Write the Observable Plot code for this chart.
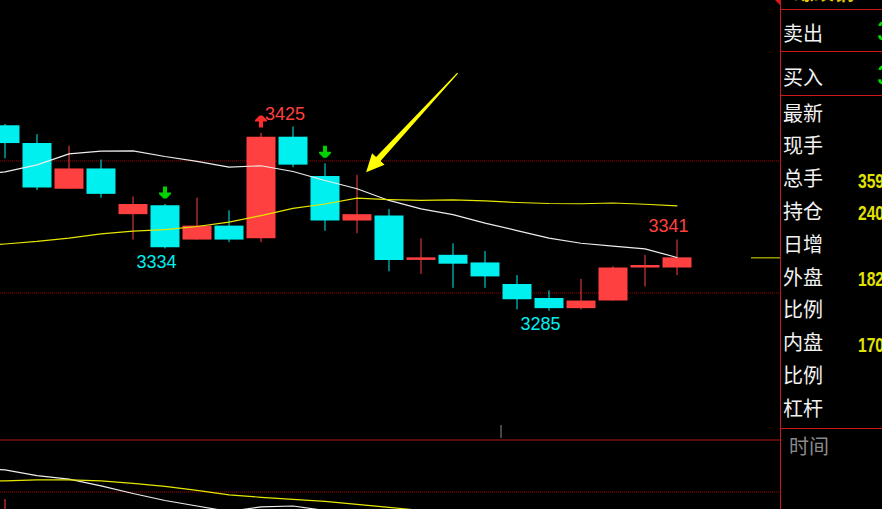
<!DOCTYPE html>
<html><head><meta charset="utf-8">
<script src="https://cdn.jsdelivr.net/npm/d3@7"></script>
<script src="https://cdn.jsdelivr.net/npm/@observablehq/plot@0.6"></script>
<style>
html,body{margin:0;padding:0;background:#000;width:882px;height:509px;overflow:hidden}
#wrap{position:relative;width:882px;height:509px;overflow:hidden;background:#000}
#main,#sub{position:absolute;left:0}
#main{top:0}
#sub{top:438px}
#panel{position:absolute;left:780px;top:0;width:102px;height:509px;border-left:1px solid #c81818;overflow:hidden}
.hl{position:absolute;left:0;width:102px;height:1px;background:#c81818}
.lbl{position:absolute;left:2px;font-family:"Noto Sans CJK SC";font-size:20px;line-height:20px;color:#f2f2f2;white-space:nowrap}
.val{position:absolute;left:77px;font-family:"Liberation Sans";font-weight:bold;font-size:20px;line-height:20px;color:#e2e200;white-space:nowrap;transform:scaleX(0.78);transform-origin:0 0}
.qv{position:absolute;left:96px;font-family:"Liberation Sans";font-size:30px;line-height:30px;color:#00e000;white-space:nowrap}
#corner{position:absolute;left:770px;top:0}
</style>
</head><body>
<div id="wrap">
  <div id="main"></div>
  <div id="sub"></div>
  <div id="panel"></div>
  <svg id="corner" width="12" height="8"><polygon points="5,0 10,0 10,5" fill="#e01818"/></svg>
</div>
<script>
// ---------- candle data (price) ----------
const candleIndex = [0,1,2,3,4,5,6,7,8,9,10,11,12,13,14,15,16,17,18,19,20,21];
const openP  = [3431,3417,3381,3397,3361,3368,3341,3352,3342,3422,3391,3356,3360,3325,3329,3323,3306,3295,3287,3293,3319,3319];
const closeP = [3417,3382,3397,3377,3369,3335,3352,3341,3422,3400,3356,3361,3325,3327,3322,3312,3294,3287,3293,3319,3321,3327];
const highP  = [3432,3424,3415,3404,3375,3369,3374,3364,3425,3430,3401,3392,3365,3342,3338,3332,3313,3301,3310,3320,3329,3341];
const lowP   = [3405,3380,3381,3374,3341,3334,3341,3339,3339,3398,3348,3346,3316,3314,3303,3303,3286,3285,3286,3293,3304,3313];

// moving averages (main chart)
const maIndex  = [-1,0,1,2,3,4,5,6,7,8,9,10,11,12,13,14,15,16,17,18,19,20,21];
const maWhite  = [3392.6,3394.7,3400.2,3408.9,3411.0,3411.3,3406.8,3402.9,3398.4,3399.5,3395.0,3387.9,3381.4,3372.2,3365.6,3361.1,3354.4,3348.5,3342.5,3338.5,3336.2,3334.1,3327.3];
const maYellow = [3336.3,3337.9,3339.9,3342.6,3345.9,3348.0,3349.3,3351.7,3355.2,3360.3,3365.9,3369.4,3374.0,3372.9,3372.2,3372.6,3371.8,3370.6,3369.8,3369.6,3370.2,3369.2,3368.0];

// reference levels (dotted) and session break
const levelLines = [3403.3, 3299.3];
const sessionBreaks = [15.5];

// signals
const signalIdx = [5, 8, 10];
const signalDir = ["sell", "buy", "sell"];

// extreme labels
const highMarks = [8, 21];
const lowMarks = [5, 17];

// callout arrow (index, price)
const calloutTail = [14.16, 3472];
const calloutTip  = [11.3, 3394];

// lower indicator panel
const subWhiteIndex = [-1,0,1,2,3,4,5,6,7,8,9,10];
const subWhite = [405,397,338,303,237,160,90,35,-20,27,35,-10];
const subYellowIndex = [-1,0,1,2,3,4,5,6,7,8,9,10,11,12,13];
const subYellow = [285,287,297,297,287,262,232,192,147,122,102,82,52,22,-10];
const subLevel = [175];
const subSeparator = [695];
const subBarIndex = [0];
const subBarValue = [100];

// right info panel
const quoteLabels = ["卖出", "买入"];
const quoteValues = ["3", "3"];
const infoLabels = ["最新","现手","总手","持仓","日增","外盘","比例","内盘","比例","杠杆"];
const infoValues = ["","","359","240","","182","","170","",""];
const timeLabel = "时间";
const headerText = "螺纹钢";

// ---------- build ----------
const RED = "#ff4040", CYAN = "#00f0f0", WHITE = "#ececec", YEL = "#e6e600";
const xDomain = [-0.140625, 24.234375];
const yDomain = [3184.76, 3529.64];

const candles = candleIndex.map((i, k) => ({i, open: openP[k], close: closeP[k], high: highP[k], low: lowP[k]}));
const col = d => d.close >= d.open ? RED : CYAN;
const maW = maIndex.map((i, k) => ({i, v: maWhite[k]}));
const maY = maIndex.map((i, k) => ({i, v: maYellow[k]}));
const signals = signalIdx.map((i, k) => ({i, dir: signalDir[k], high: highP[i]}));
const hiLab = highMarks.map(i => ({i, v: highP[i]}));
const loLab = lowMarks.map(i => ({i, v: lowP[i]}));

function arrowSym(dir) {
  const g = dir === "down" ? 1 : -1;
  return {draw(ctx, size) {
    const s = Math.sqrt(size / Math.PI) / 6;
    const P = [[-2,-6],[2,-6],[2,0],[6,0],[6,1.5],[1.5,6],[-1.5,6],[-6,1.5],[-6,0],[-2,0]];
    P.forEach(([x, y], j) => j ? ctx.lineTo(x * s, g * y * s) : ctx.moveTo(x * s, g * y * s));
    ctx.closePath();
  }};
}

const labelFont = {fontFamily: "Liberation Sans", fontSize: 18, lineAnchor: "middle", textAnchor: "middle"};

const main = Plot.plot({
  width: 780, height: 438, margin: 0,
  style: {background: "#000", overflow: "hidden"},
  x: {type: "linear", domain: xDomain, axis: null},
  y: {type: "linear", domain: yDomain, axis: null},
  marks: [
    Plot.ruleY(levelLines, {stroke: "#a80000", strokeDasharray: "1,1"}),
    Plot.ruleX(sessionBreaks, {stroke: "#8c8c8c", insetTop: 425}),
    Plot.ruleY([closeP[closeP.length - 1]], {stroke: YEL, insetLeft: 751}),
    Plot.ruleX(candles, {x: "i", y1: "low", y2: "high", stroke: col, strokeWidth: 1}),
    Plot.ruleX(candles, {x: "i", y1: "open", y2: "close", stroke: col, strokeWidth: 29}),
    Plot.line(maW, {x: "i", y: "v", stroke: WHITE, strokeWidth: 1.2}),
    Plot.line(maY, {x: "i", y: "v", stroke: YEL, strokeWidth: 1.2}),
    Plot.dot(signals.filter(d => d.dir === "sell"), {x: "i", y: "high", symbol: arrowSym("down"), r: 6, fill: "#00d200", stroke: "none", dy: -12}),
    Plot.dot(signals.filter(d => d.dir === "buy"), {x: "i", y: "high", symbol: arrowSym("up"), r: 6, fill: "#ff2a2a", stroke: "none", dy: -12}),
    Plot.text(hiLab.filter(d => d.i === 8), {x: "i", y: "v", text: d => String(d.v), fill: RED, dx: 24, dy: -19, ...labelFont}),
    Plot.text(hiLab.filter(d => d.i !== 8), {x: "i", y: "v", text: d => String(d.v), fill: RED, dx: -8.5, dy: -14, ...labelFont}),
    Plot.text(loLab, {x: "i", y: "v", text: d => String(d.v), fill: CYAN, dx: -8.5, dy: 13, ...labelFont})
  ]
});

// callout arrow using the plot's scales
(function () {
  const sx = main.scale("x"), sy = main.scale("y");
  const T = [sx.apply(calloutTip[0]), sy.apply(calloutTip[1])];
  const A = [sx.apply(calloutTail[0]), sy.apply(calloutTail[1])];
  const dx = A[0] - T[0], dy = A[1] - T[1], len = Math.hypot(dx, dy);
  const u = [dx / len, dy / len], n = [-u[1], u[0]];
  const HL = 18, HW = 8.5, SW = 3, TW = 0.6;
  const B = [T[0] + u[0] * HL, T[1] + u[1] * HL];
  const p = (o, k) => [o[0] + n[0] * k, o[1] + n[1] * k];
  const pts = [T, p(B, HW), p(B, SW), p(A, TW), p(A, -TW), p(B, -SW), p(B, -HW)];
  d3.select(main).append("path")
    .attr("d", "M" + pts.map(q => q.join(",")).join("L") + "Z")
    .attr("fill", "#ffff00");
})();
document.getElementById("main").appendChild(main);

const sub = Plot.plot({
  width: 780, height: 71, margin: 0,
  style: {background: "transparent", overflow: "hidden"},
  x: {type: "linear", domain: xDomain, axis: null},
  y: {type: "linear", domain: [0, 710], axis: null},
  marks: [
    Plot.ruleY(subSeparator, {stroke: "#b81414"}),
    Plot.ruleY(subLevel, {stroke: "#a80000", strokeDasharray: "1,1"}),
    Plot.ruleX(subBarIndex.map((i, k) => ({i, v: subBarValue[k]})), {x: "i", y1: 0, y2: "v", stroke: RED}),
    Plot.line(subWhiteIndex.map((i, k) => ({i, v: subWhite[k]})), {x: "i", y: "v", stroke: WHITE, strokeWidth: 1.2}),
    Plot.line(subYellowIndex.map((i, k) => ({i, v: subYellow[k]})), {x: "i", y: "v", stroke: YEL, strokeWidth: 1.2})
  ]
});
document.getElementById("sub").appendChild(sub);

// right panel
const panel = document.getElementById("panel");
function add(cls, text, top, extra) {
  const d = document.createElement("div");
  d.className = cls; d.textContent = text; d.style.top = top + "px";
  if (extra) Object.assign(d.style, extra);
  panel.appendChild(d); return d;
}
[9, 51, 95, 428].forEach(t => { const h = document.createElement("div"); h.className = "hl"; h.style.top = t + "px"; panel.appendChild(h); });
add("val", headerText, -18, {left: "13px", fontFamily: "Noto Sans CJK SC", fontSize: "20px", lineHeight: "20px", color: "#e6cc00", transform: "none"});
const quoteCenters = [34, 78];
quoteLabels.forEach((t, k) => {
  add("lbl", t, quoteCenters[k] - 11);
  add("qv", quoteValues[k], quoteCenters[k] - 15 - 3);
});
infoLabels.forEach((t, k) => {
  const c = 113.5 + k * 32.8;
  add("lbl", t, c - 11);
  if (infoValues[k]) add("val", infoValues[k], c - 10 + 1.5);
});
add("lbl", timeLabel, 447 - 11, {left: "8px", color: "#8a8a8a"});
</script>
</body></html>
